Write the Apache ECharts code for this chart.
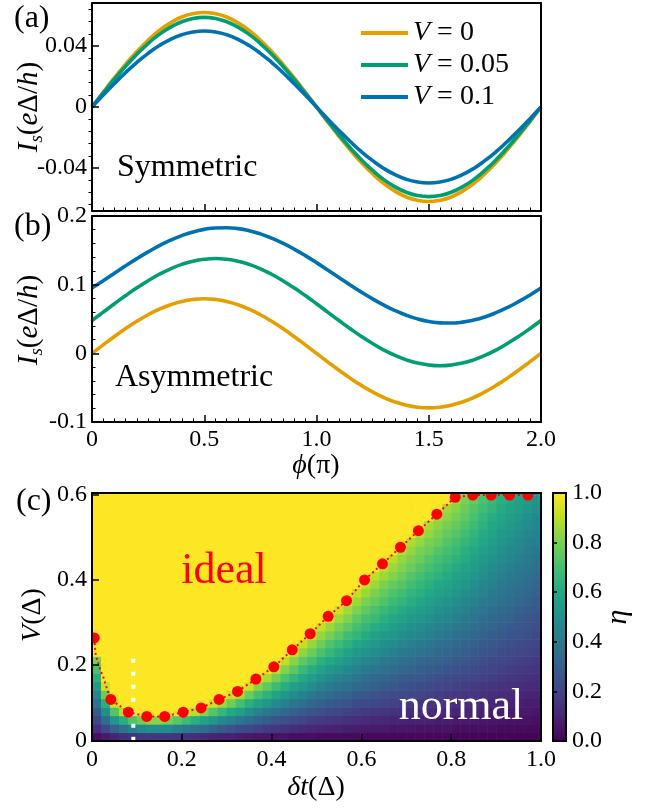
<!DOCTYPE html>
<html>
<head>
<meta charset="utf-8">
<script src="https://cdn.jsdelivr.net/npm/echarts@6/dist/echarts.min.js"></script>
<style>
  html, body { margin: 0; padding: 0; background: #fff; }
  #chart { width: 655px; height: 808px; }
</style>
</head>
<body>
<div id="chart"></div>
<script>
(function josephsonFigure() {
  // ---- data ----
  var phi = [0, 0.05, 0.1, 0.15, 0.2, 0.25, 0.3, 0.35, 0.4, 0.45, 0.5, 0.55, 0.6, 0.65, 0.7, 0.75, 0.8, 0.85, 0.9, 0.95, 1.0,
             1.05, 1.1, 1.15, 1.2, 1.25, 1.3, 1.35, 1.4, 1.45, 1.5, 1.55, 1.6, 1.65, 1.7, 1.75, 1.8, 1.85, 1.9, 1.95, 2.0];

  // (a) symmetric
  var symV0 = [0, 0.0097, 0.0192, 0.0281, 0.0364, 0.0438, 0.0502, 0.0552, 0.0590, 0.0612, 0.0620, 0.0612, 0.0590, 0.0552, 0.0502, 0.0438, 0.0364, 0.0281, 0.0192, 0.0097, 0,
               -0.0097, -0.0192, -0.0281, -0.0364, -0.0438, -0.0502, -0.0552, -0.0590, -0.0612, -0.0620, -0.0612, -0.0590, -0.0552, -0.0502, -0.0438, -0.0364, -0.0281, -0.0192, -0.0097, 0];
  var symV005 = [0, 0.0092, 0.0182, 0.0267, 0.0346, 0.0416, 0.0476, 0.0524, 0.0559, 0.0581, 0.0588, 0.0581, 0.0559, 0.0524, 0.0476, 0.0416, 0.0346, 0.0267, 0.0182, 0.0092, 0,
                 -0.0092, -0.0182, -0.0267, -0.0346, -0.0416, -0.0476, -0.0524, -0.0559, -0.0581, -0.0588, -0.0581, -0.0559, -0.0524, -0.0476, -0.0416, -0.0346, -0.0267, -0.0182, -0.0092, 0];
  var symV01 = [0, 0.0078, 0.0154, 0.0226, 0.0293, 0.0352, 0.0403, 0.0444, 0.0474, 0.0492, 0.0498, 0.0492, 0.0474, 0.0444, 0.0403, 0.0352, 0.0293, 0.0226, 0.0154, 0.0078, 0,
                -0.0078, -0.0154, -0.0226, -0.0293, -0.0352, -0.0403, -0.0444, -0.0474, -0.0492, -0.0498, -0.0492, -0.0474, -0.0444, -0.0403, -0.0352, -0.0293, -0.0226, -0.0154, -0.0078, 0];

  // (b) asymmetric
  var asymV0 = [0, 0.0124, 0.0246, 0.0361, 0.0467, 0.0562, 0.0643, 0.0708, 0.0756, 0.0785, 0.0795, 0.0785, 0.0756, 0.0708, 0.0643, 0.0562, 0.0467, 0.0361, 0.0246, 0.0124, 0,
                -0.0124, -0.0246, -0.0361, -0.0467, -0.0562, -0.0643, -0.0708, -0.0756, -0.0785, -0.0795, -0.0785, -0.0756, -0.0708, -0.0643, -0.0562, -0.0467, -0.0361, -0.0246, -0.0124, 0];
  var asymV005 = [0.0478, 0.0600, 0.0722, 0.0841, 0.0954, 0.1058, 0.1152, 0.1231, 0.1295, 0.1342, 0.1370, 0.1380, 0.1370, 0.1342, 0.1295, 0.1231, 0.1152, 0.1058, 0.0954, 0.0841, 0.0722,
                  0.0600, 0.0478, 0.0359, 0.0246, 0.0142, 0.0048, -0.0031, -0.0095, -0.0142, -0.0170, -0.0180, -0.0170, -0.0142, -0.0095, -0.0031, 0.0048, 0.0142, 0.0246, 0.0359, 0.0478];
  var asymV01 = [0.0950, 0.1057, 0.1166, 0.1274, 0.1379, 0.1477, 0.1568, 0.1648, 0.1715, 0.1768, 0.1805, 0.1826, 0.1829, 0.1816, 0.1786, 0.1740, 0.1678, 0.1604, 0.1518, 0.1423, 0.1321,
                 0.1213, 0.1104, 0.0996, 0.0891, 0.0793, 0.0702, 0.0622, 0.0555, 0.0502, 0.0465, 0.0444, 0.0441, 0.0454, 0.0484, 0.0530, 0.0592, 0.0666, 0.0752, 0.0847, 0.0950];

  var seriesNames = ['V = 0', 'V = 0.05', 'V = 0.1'];

  // (c) phase boundary (red dots) and the dotted line through it
  var dotT = [0.005, 0.042, 0.081, 0.122, 0.162, 0.203, 0.243, 0.283, 0.324, 0.365, 0.405, 0.446, 0.486, 0.526, 0.567, 0.607, 0.647, 0.687, 0.727, 0.768, 0.809, 0.848, 0.889, 0.930, 0.971];
  var dotV = [0.263, 0.118, 0.088, 0.078, 0.078, 0.088, 0.098, 0.118, 0.137, 0.166, 0.195, 0.235, 0.273, 0.314, 0.351, 0.400, 0.438, 0.477, 0.516, 0.555, 0.595, 0.600, 0.600, 0.600, 0.600];
  var edgeT = [0.005, 0.008, 0.016, 0.026, 0.034, 0.042, 0.081, 0.122, 0.162, 0.203, 0.243, 0.283, 0.324, 0.365, 0.405, 0.446, 0.486, 0.526, 0.567, 0.607, 0.647, 0.687, 0.727, 0.768, 0.809, 0.848, 0.889, 0.930, 0.971];
  var edgeV = [0.263, 0.225, 0.195, 0.168, 0.141, 0.118, 0.088, 0.078, 0.078, 0.088, 0.098, 0.118, 0.137, 0.166, 0.195, 0.235, 0.273, 0.314, 0.351, 0.400, 0.438, 0.477, 0.516, 0.555, 0.595, 0.600, 0.600, 0.600, 0.600];

  // white dotted marker
  var markT = [0.092, 0.092];
  var markV = [0.214, 0.02];

  // (c) heat map: column centres (delta t), row centres (V), eta in percent, one array per column (bottom -> top)
  var tCols = [0.01, 0.03, 0.05, 0.07, 0.09, 0.11, 0.13, 0.15, 0.17, 0.19, 0.21, 0.23, 0.25, 0.27, 0.29, 0.31, 0.33, 0.35, 0.37, 0.39, 0.41, 0.43, 0.45, 0.47, 0.49,
               0.51, 0.53, 0.55, 0.57, 0.59, 0.61, 0.63, 0.65, 0.67, 0.69, 0.71, 0.73, 0.75, 0.77, 0.79, 0.81, 0.83, 0.85, 0.87, 0.89, 0.91, 0.93, 0.95, 0.97, 0.99];
  var vRows = [0.03, 0.05, 0.07, 0.09, 0.11, 0.13, 0.15, 0.17, 0.19, 0.21, 0.23, 0.25, 0.27, 0.29, 0.31, 0.33, 0.35, 0.37, 0.39, 0.41, 0.43, 0.45, 0.47, 0.49, 0.51,
               0.53, 0.55, 0.57, 0.59, 0.61];
  var etaCols = [
    [4, 13, 21, 29, 38, 46, 54, 63, 71, 79, 100, 100, 100, 100, 100, 100, 100, 100, 100, 100, 100, 100, 100, 100, 100, 100, 100, 100, 100, 100],
    [7, 21, 35, 49, 63, 77, 92, 100, 100, 100, 100, 100, 100, 100, 100, 100, 100, 100, 100, 100, 100, 100, 100, 100, 100, 100, 100, 100, 100, 100],
    [10, 31, 52, 73, 92, 100, 100, 100, 100, 100, 100, 100, 100, 100, 100, 100, 100, 100, 100, 100, 100, 100, 100, 100, 100, 100, 100, 100, 100, 100],
    [13, 38, 63, 88, 100, 100, 100, 100, 100, 100, 100, 100, 100, 100, 100, 100, 100, 100, 100, 100, 100, 100, 100, 100, 100, 100, 100, 100, 100, 100],
    [14, 43, 72, 100, 100, 100, 100, 100, 100, 100, 100, 100, 100, 100, 100, 100, 100, 100, 100, 100, 100, 100, 100, 100, 100, 100, 100, 100, 100, 100],
    [16, 47, 78, 100, 100, 100, 100, 100, 100, 100, 100, 100, 100, 100, 100, 100, 100, 100, 100, 100, 100, 100, 100, 100, 100, 100, 100, 100, 100, 100],
    [16, 49, 82, 100, 100, 100, 100, 100, 100, 100, 100, 100, 100, 100, 100, 100, 100, 100, 100, 100, 100, 100, 100, 100, 100, 100, 100, 100, 100, 100],
    [16, 49, 82, 100, 100, 100, 100, 100, 100, 100, 100, 100, 100, 100, 100, 100, 100, 100, 100, 100, 100, 100, 100, 100, 100, 100, 100, 100, 100, 100],
    [16, 48, 79, 100, 100, 100, 100, 100, 100, 100, 100, 100, 100, 100, 100, 100, 100, 100, 100, 100, 100, 100, 100, 100, 100, 100, 100, 100, 100, 100],
    [15, 44, 74, 100, 100, 100, 100, 100, 100, 100, 100, 100, 100, 100, 100, 100, 100, 100, 100, 100, 100, 100, 100, 100, 100, 100, 100, 100, 100, 100],
    [14, 41, 68, 92, 100, 100, 100, 100, 100, 100, 100, 100, 100, 100, 100, 100, 100, 100, 100, 100, 100, 100, 100, 100, 100, 100, 100, 100, 100, 100],
    [13, 38, 63, 89, 100, 100, 100, 100, 100, 100, 100, 100, 100, 100, 100, 100, 100, 100, 100, 100, 100, 100, 100, 100, 100, 100, 100, 100, 100, 100],
    [12, 35, 58, 81, 100, 100, 100, 100, 100, 100, 100, 100, 100, 100, 100, 100, 100, 100, 100, 100, 100, 100, 100, 100, 100, 100, 100, 100, 100, 100],
    [10, 31, 52, 73, 92, 100, 100, 100, 100, 100, 100, 100, 100, 100, 100, 100, 100, 100, 100, 100, 100, 100, 100, 100, 100, 100, 100, 100, 100, 100],
    [9, 28, 47, 66, 85, 100, 100, 100, 100, 100, 100, 100, 100, 100, 100, 100, 100, 100, 100, 100, 100, 100, 100, 100, 100, 100, 100, 100, 100, 100],
    [9, 26, 43, 60, 78, 92, 100, 100, 100, 100, 100, 100, 100, 100, 100, 100, 100, 100, 100, 100, 100, 100, 100, 100, 100, 100, 100, 100, 100, 100],
    [8, 23, 39, 55, 70, 86, 100, 100, 100, 100, 100, 100, 100, 100, 100, 100, 100, 100, 100, 100, 100, 100, 100, 100, 100, 100, 100, 100, 100, 100],
    [7, 21, 35, 49, 63, 77, 92, 100, 100, 100, 100, 100, 100, 100, 100, 100, 100, 100, 100, 100, 100, 100, 100, 100, 100, 100, 100, 100, 100, 100],
    [6, 19, 32, 44, 57, 70, 82, 92, 100, 100, 100, 100, 100, 100, 100, 100, 100, 100, 100, 100, 100, 100, 100, 100, 100, 100, 100, 100, 100, 100],
    [6, 17, 29, 40, 52, 64, 75, 87, 100, 100, 100, 100, 100, 100, 100, 100, 100, 100, 100, 100, 100, 100, 100, 100, 100, 100, 100, 100, 100, 100],
    [5, 16, 26, 37, 47, 58, 68, 79, 89, 100, 100, 100, 100, 100, 100, 100, 100, 100, 100, 100, 100, 100, 100, 100, 100, 100, 100, 100, 100, 100],
    [5, 14, 24, 33, 43, 52, 62, 71, 81, 90, 100, 100, 100, 100, 100, 100, 100, 100, 100, 100, 100, 100, 100, 100, 100, 100, 100, 100, 100, 100],
    [4, 13, 22, 30, 39, 48, 56, 65, 74, 82, 91, 100, 100, 100, 100, 100, 100, 100, 100, 100, 100, 100, 100, 100, 100, 100, 100, 100, 100, 100],
    [4, 12, 20, 28, 36, 44, 52, 60, 67, 75, 83, 91, 100, 100, 100, 100, 100, 100, 100, 100, 100, 100, 100, 100, 100, 100, 100, 100, 100, 100],
    [4, 11, 18, 26, 33, 40, 48, 55, 62, 70, 77, 84, 92, 100, 100, 100, 100, 100, 100, 100, 100, 100, 100, 100, 100, 100, 100, 100, 100, 100],
    [3, 10, 17, 24, 30, 37, 44, 51, 57, 64, 71, 78, 84, 91, 100, 100, 100, 100, 100, 100, 100, 100, 100, 100, 100, 100, 100, 100, 100, 100],
    [3, 9, 16, 22, 28, 35, 41, 47, 53, 60, 66, 72, 79, 85, 91, 100, 100, 100, 100, 100, 100, 100, 100, 100, 100, 100, 100, 100, 100, 100],
    [3, 9, 15, 21, 27, 33, 38, 44, 50, 56, 62, 68, 74, 80, 86, 92, 100, 100, 100, 100, 100, 100, 100, 100, 100, 100, 100, 100, 100, 100],
    [3, 8, 14, 19, 25, 31, 36, 42, 47, 53, 58, 64, 69, 75, 81, 86, 92, 100, 100, 100, 100, 100, 100, 100, 100, 100, 100, 100, 100, 100],
    [3, 8, 13, 18, 23, 28, 34, 39, 44, 49, 54, 60, 65, 70, 75, 80, 85, 91, 100, 100, 100, 100, 100, 100, 100, 100, 100, 100, 100, 100],
    [2, 7, 12, 17, 22, 27, 32, 36, 41, 46, 51, 56, 61, 66, 70, 75, 80, 85, 90, 100, 100, 100, 100, 100, 100, 100, 100, 100, 100, 100],
    [2, 7, 11, 16, 21, 25, 30, 34, 39, 44, 48, 53, 57, 62, 67, 71, 76, 80, 85, 90, 100, 100, 100, 100, 100, 100, 100, 100, 100, 100],
    [2, 7, 11, 15, 20, 24, 28, 33, 37, 41, 46, 50, 54, 59, 63, 67, 72, 76, 80, 85, 89, 100, 100, 100, 100, 100, 100, 100, 100, 100],
    [2, 6, 10, 14, 19, 23, 27, 31, 35, 39, 43, 48, 52, 56, 60, 64, 68, 72, 76, 81, 85, 89, 100, 100, 100, 100, 100, 100, 100, 100],
    [2, 6, 10, 14, 18, 22, 26, 29, 33, 37, 41, 45, 49, 53, 57, 61, 65, 69, 73, 77, 81, 84, 88, 100, 100, 100, 100, 100, 100, 100],
    [2, 6, 9, 13, 17, 21, 24, 28, 32, 36, 39, 43, 47, 50, 54, 58, 62, 65, 69, 73, 77, 80, 84, 88, 100, 100, 100, 100, 100, 100],
    [2, 5, 9, 13, 16, 20, 23, 27, 30, 34, 38, 41, 45, 48, 52, 55, 59, 63, 66, 70, 73, 77, 80, 84, 88, 100, 100, 100, 100, 100],
    [2, 5, 9, 12, 15, 19, 22, 26, 29, 32, 36, 39, 43, 46, 49, 53, 56, 60, 63, 66, 70, 73, 77, 80, 84, 87, 100, 100, 100, 100],
    [2, 5, 8, 11, 15, 18, 21, 24, 28, 31, 34, 37, 41, 44, 47, 50, 54, 57, 60, 64, 67, 70, 73, 77, 80, 83, 86, 100, 100, 100],
    [2, 5, 8, 11, 14, 17, 20, 23, 26, 30, 33, 36, 39, 42, 45, 48, 51, 55, 58, 61, 64, 67, 70, 73, 76, 79, 83, 86, 100, 100],
    [1, 4, 7, 10, 13, 16, 19, 22, 25, 28, 31, 34, 37, 40, 43, 46, 49, 52, 55, 58, 61, 64, 67, 70, 73, 76, 79, 82, 85, 100],
    [1, 4, 7, 10, 13, 15, 18, 21, 24, 27, 30, 32, 35, 38, 41, 44, 46, 49, 52, 55, 58, 61, 63, 66, 69, 72, 75, 77, 80, 83],
    [1, 4, 7, 9, 12, 15, 17, 20, 23, 25, 28, 31, 33, 36, 39, 41, 44, 47, 49, 52, 55, 57, 60, 63, 65, 68, 71, 73, 76, 79],
    [1, 4, 6, 9, 11, 14, 16, 19, 21, 24, 26, 29, 31, 34, 36, 39, 41, 44, 46, 49, 51, 54, 56, 59, 61, 64, 66, 69, 71, 74],
    [1, 4, 6, 8, 11, 13, 15, 18, 20, 22, 25, 27, 29, 32, 34, 36, 39, 41, 44, 46, 48, 51, 53, 55, 58, 60, 62, 65, 67, 69],
    [1, 3, 6, 8, 10, 12, 14, 17, 19, 21, 23, 26, 28, 30, 32, 34, 37, 39, 41, 43, 46, 48, 50, 52, 54, 57, 59, 61, 63, 66],
    [1, 3, 5, 7, 9, 12, 14, 16, 18, 20, 22, 24, 26, 28, 31, 33, 35, 37, 39, 41, 43, 45, 47, 49, 52, 54, 56, 58, 60, 62],
    [1, 3, 5, 7, 9, 11, 13, 15, 17, 19, 21, 23, 25, 27, 29, 31, 33, 35, 37, 39, 41, 43, 45, 47, 49, 51, 53, 55, 57, 59],
    [1, 3, 5, 7, 8, 10, 12, 14, 16, 18, 20, 22, 24, 25, 27, 29, 31, 33, 35, 37, 39, 41, 42, 44, 46, 48, 50, 52, 54, 56],
    [1, 3, 4, 6, 8, 10, 12, 13, 15, 17, 19, 21, 22, 24, 26, 28, 29, 31, 33, 35, 37, 38, 40, 42, 44, 46, 47, 49, 51, 53]
  ];

  // tick labels
  var yTicksA = [-0.04, 0, 0.04];
  var yTicksC = [0.02, 0.2, 0.4, 0.6];
  var yLabelsC = ['0', '0.2', '0.4', '0.6'];

  // ---- style ----
  var SERIF = 'Liberation Serif';
  var ORANGE = '#E69F00', GREEN = '#009E73', BLUE = '#0072B2';
  var VIRIDIS = ['#440154', '#482475', '#414487', '#355f8d', '#2a788e', '#21918c', '#22a884', '#44bf70', '#7ad151', '#bddf26', '#fde725'];
  var CELL_W = 0.02, CELL_H = 0.02;
  var DOT_R = 5.5;
  var TICK_FONT = 24;

  var chart = echarts.init(document.getElementById('chart'));

  function pairs(xs, ys) {
    return xs.map(function (x, i) { return [x, ys[i]]; });
  }

  function numLabel(v) {
    if (Math.abs(v) < 1e-9) return '0';
    return String(Number(v.toFixed(2)));
  }

  function oneDecimal(v) {
    if (Math.abs(v) < 1e-9) return '0';
    return v.toFixed(1);
  }

  var labelStyle = { fontFamily: SERIF, fontSize: TICK_FONT, color: '#000' };
  var lineBlack = { color: '#000', width: 2 };
  var majorTick = { inside: true, length: 7, lineStyle: { color: '#000', width: 1.5 } };
  var minorTickStyle = { color: '#000', width: 1 };

  function frameAxis(gridIndex, pos, min, max) {
    return {
      type: 'value', gridIndex: gridIndex, position: pos, min: min, max: max, z: 10,
      axisLine: { show: true, onZero: false, lineStyle: lineBlack },
      axisTick: { show: false }, axisLabel: { show: false }, splitLine: { show: false }
    };
  }

  var xAxes = [
    // 0: (a) bottom
    {
      type: 'value', gridIndex: 0, min: 0, max: 2, interval: 0.5, z: 10,
      axisLine: { onZero: false, lineStyle: lineBlack }, axisTick: majorTick,
      minorTick: { show: true, splitNumber: 10, length: 3.5, lineStyle: minorTickStyle },
      axisLabel: { show: false }, splitLine: { show: false }
    },
    frameAxis(0, 'top', 0, 2),
    // 2: (b) bottom
    {
      type: 'value', gridIndex: 1, min: 0, max: 2, interval: 0.5, z: 10,
      axisLine: { onZero: false, lineStyle: lineBlack }, axisTick: majorTick,
      minorTick: { show: true, splitNumber: 10, length: 3.5, lineStyle: minorTickStyle },
      axisLabel: Object.assign({ margin: 6, formatter: oneDecimal }, labelStyle),
      splitLine: { show: false }
    },
    frameAxis(1, 'top', 0, 2),
    // 4: (c) bottom
    {
      type: 'value', gridIndex: 2, min: 0, max: 1, interval: 0.2, z: 10,
      axisLine: { onZero: false, lineStyle: lineBlack }, axisTick: majorTick,
      axisLabel: Object.assign({ margin: 7, formatter: oneDecimal }, labelStyle),
      splitLine: { show: false }
    },
    frameAxis(2, 'top', 0, 1),
    // 6: colour bar
    { type: 'value', gridIndex: 3, min: 0, max: 1, show: false, splitLine: { show: false } }
  ];

  var minorA = [];
  for (var m = -0.064; m < 0.0645; m += 0.008) {
    var r = Math.round(m * 1000) / 1000;
    if (yTicksA.indexOf(r) < 0) minorA.push(r);
  }

  var yAxes = [
    // 0: (a) left
    {
      type: 'value', gridIndex: 0, min: -0.0682, max: 0.0682, z: 10,
      axisLine: { onZero: false, lineStyle: lineBlack },
      axisTick: Object.assign({ customValues: yTicksA }, majorTick),
      axisLabel: Object.assign({ margin: 5, customValues: yTicksA, formatter: numLabel }, labelStyle),
      splitLine: { show: false }
    },
    // 1: (a) left minor ticks
    {
      type: 'value', gridIndex: 0, min: -0.0682, max: 0.0682, z: 10,
      axisLine: { show: false },
      axisTick: { inside: true, length: 3.5, customValues: minorA, lineStyle: minorTickStyle },
      axisLabel: { show: false }, splitLine: { show: false }
    },
    frameAxis(0, 'right', -0.0682, 0.0682),
    // 3: (b) left
    {
      type: 'value', gridIndex: 1, min: -0.1, max: 0.2, interval: 0.1, z: 10,
      axisLine: { onZero: false, lineStyle: lineBlack }, axisTick: majorTick,
      minorTick: { show: true, splitNumber: 5, length: 3.5, lineStyle: minorTickStyle },
      axisLabel: Object.assign({ margin: 5, formatter: oneDecimal }, labelStyle),
      splitLine: { show: false }
    },
    frameAxis(1, 'right', -0.1, 0.2),
    // 5: (c) left
    {
      type: 'value', gridIndex: 2, min: 0.02, max: 0.605, z: 10,
      axisLine: { onZero: false, lineStyle: lineBlack },
      axisTick: Object.assign({ customValues: yTicksC }, majorTick),
      axisLabel: Object.assign({
        margin: 5, customValues: yTicksC,
        formatter: function (v) {
          var k = yTicksC.indexOf(Math.round(v * 1000) / 1000);
          return k < 0 ? '' : yLabelsC[k];
        }
      }, labelStyle),
      splitLine: { show: false }
    },
    frameAxis(2, 'right', 0.02, 0.605),
    // 7: colour bar
    {
      type: 'value', gridIndex: 3, position: 'right', min: 0, max: 1, interval: 0.2, z: 10,
      axisLine: { show: false },
      axisTick: { inside: false, length: 4, lineStyle: { color: '#000', width: 1.5 } },
      axisLabel: Object.assign({ margin: 6, formatter: function (v) { return v.toFixed(1); } }, labelStyle),
      splitLine: { show: false }
    }
  ];

  function curve(name, color, xi, yi, ys) {
    return {
      name: name, type: 'line', xAxisIndex: xi, yAxisIndex: yi,
      data: pairs(phi, ys), smooth: true, showSymbol: false, symbol: 'none',
      lineStyle: { color: color, width: 3.6 }, itemStyle: { color: color }, z: 3
    };
  }

  var heatData = [];
  etaCols.forEach(function (col, j) {
    col.forEach(function (val, k) {
      heatData.push([tCols[j], vRows[k], val / 100]);
    });
  });

  function renderCell(params, api) {
    var t = api.value(0), v = api.value(1);
    var p0 = api.coord([t - CELL_W / 2, v + CELL_H / 2]);
    var p1 = api.coord([t + CELL_W / 2, v - CELL_H / 2]);
    var cs = params.coordSys;
    var shape = echarts.graphic.clipRectByRect(
      { x: p0[0], y: p0[1], width: p1[0] - p0[0] + 0.6, height: p1[1] - p0[1] + 0.6 },
      { x: cs.x, y: cs.y, width: cs.width, height: cs.height }
    );
    if (!shape) return null;
    return { type: 'rect', shape: shape, style: { fill: api.visual('color') } };
  }

  // red markers, clipped to the axes box like the original
  function renderDot(params, api) {
    var p = api.coord([api.value(0), api.value(1)]);
    return { type: 'circle', shape: { cx: p[0], cy: p[1], r: DOT_R }, style: { fill: '#ff0000' } };
  }

  function renderColorbar(params, api) {
    var cs = params.coordSys;
    var n = VIRIDIS.length;
    var stops = VIRIDIS.map(function (c, i) {
      return { offset: i / (n - 1), color: VIRIDIS[n - 1 - i] };
    });
    return {
      type: 'rect',
      shape: { x: cs.x, y: cs.y, width: cs.width, height: cs.height },
      style: { fill: new echarts.graphic.LinearGradient(0, 0, 0, 1, stops), stroke: '#000', lineWidth: 2 }
    };
  }

  var series = [
    curve(seriesNames[0], ORANGE, 0, 0, symV0),
    curve(seriesNames[1], GREEN, 0, 0, symV005),
    curve(seriesNames[2], BLUE, 0, 0, symV01),
    curve(seriesNames[0], ORANGE, 2, 3, asymV0),
    curve(seriesNames[1], GREEN, 2, 3, asymV005),
    curve(seriesNames[2], BLUE, 2, 3, asymV01),
    {
      type: 'custom', xAxisIndex: 4, yAxisIndex: 5, renderItem: renderCell,
      data: heatData, encode: { x: 0, y: 1 }, z: 1
    },
    {
      type: 'line', xAxisIndex: 4, yAxisIndex: 5, data: pairs(markT, markV),
      symbol: 'none', lineStyle: { color: '#fff', width: 4, type: [4, 9], cap: 'butt' }, z: 3
    },
    {
      type: 'line', xAxisIndex: 4, yAxisIndex: 5, data: pairs(edgeT, edgeV),
      symbol: 'none', lineStyle: { color: '#ff0000', width: 2, type: [2, 3] }, z: 3
    },
    {
      type: 'custom', xAxisIndex: 4, yAxisIndex: 5, renderItem: renderDot,
      data: pairs(dotT, dotV), encode: { x: 0, y: 1 }, clip: true, z: 4
    },
    {
      type: 'custom', xAxisIndex: 6, yAxisIndex: 7, renderItem: renderColorbar,
      data: [[0, 0]], z: 1
    }
  ];

  function rich(size, col) {
    var c = col || '#000';
    var sub = Math.round(size * 0.65);
    return {
      n: { fontFamily: SERIF, fontSize: size, fill: c, color: c, lineHeight: size + 6 },
      i: { fontFamily: SERIF, fontSize: size, fontStyle: 'italic', fill: c, color: c, lineHeight: size + 6 },
      s: { fontFamily: SERIF, fontSize: sub, fontStyle: 'italic', fill: c, color: c, lineHeight: sub, verticalAlign: 'bottom' }
    };
  }

  function label(x, y, text, size, opt) {
    opt = opt || {};
    var align = opt.align || 'center';
    return {
      type: 'text', x: x, y: y, rotation: opt.rotation || 0, silent: true, z: 20,
      style: {
        text: text, rich: rich(size, opt.color),
        fontFamily: SERIF, fontSize: size, fill: opt.color || '#000',
        align: align, textAlign: align, verticalAlign: 'middle', textVerticalAlign: 'middle'
      }
    };
  }

  var graphics = [
    label(14, 19, '{n|(a)}', 32, { align: 'left' }),
    label(14, 227, '{n|(b)}', 32, { align: 'left' }),
    label(16, 502, '{n|(c)}', 32, { align: 'left' }),
    label(29, 107, '{i|I}{s|s}{n|(}{i|e}{n|Δ/}{i|h}{n|)}', 29, { rotation: Math.PI / 2 }),
    label(29, 320, '{i|I}{s|s}{n|(}{i|e}{n|Δ/}{i|h}{n|)}', 29, { rotation: Math.PI / 2 }),
    label(33, 615, '{i|V}{n|(Δ)}', 28, { rotation: Math.PI / 2 }),
    label(316, 466, '{i|\u03D5}{n|(π)}', 28),
    label(316, 788, '{i|δt}{n|(Δ)}', 28),
    label(618, 617, '{i|η}', 30, { rotation: Math.PI / 2 }),
    label(117, 168, '{n|Symmetric}', 32, { align: 'left' }),
    label(115, 378, '{n|Asymmetric}', 32, { align: 'left' }),
    label(224, 571, '{n|ideal}', 44, { color: '#ff0000' }),
    label(461, 707, '{n|normal}', 44, { color: '#ffffff' })
  ];

  chart.setOption({
    animation: false,
    backgroundColor: '#fff',
    textStyle: { fontFamily: SERIF },
    grid: [
      { left: 92, top: 3, width: 449, height: 208 },
      { left: 92, top: 216, width: 449, height: 206 },
      { left: 92, top: 493, width: 449, height: 248 },
      { left: 553, top: 493, width: 13, height: 248 }
    ],
    xAxis: xAxes,
    yAxis: yAxes,
    visualMap: {
      type: 'continuous', show: false, min: 0, max: 1, dimension: 2, seriesIndex: [6],
      inRange: { color: VIRIDIS }
    },
    legend: {
      data: seriesNames, orient: 'vertical', left: 356, top: 14,
      itemWidth: 47, itemHeight: 4, itemGap: 4, icon: 'rect', selectedMode: false,
      formatter: function (name) { return '{i|V}{n|' + name.slice(1) + '}'; },
      textStyle: {
        fontFamily: SERIF,
        rich: {
          i: { fontFamily: SERIF, fontSize: 28, fontStyle: 'italic', color: '#000', lineHeight: 30 },
          n: { fontFamily: SERIF, fontSize: 28, color: '#000', lineHeight: 30 }
        }
      }
    },
    graphic: graphics,
    series: series
  });
})();
</script>
</body>
</html>
